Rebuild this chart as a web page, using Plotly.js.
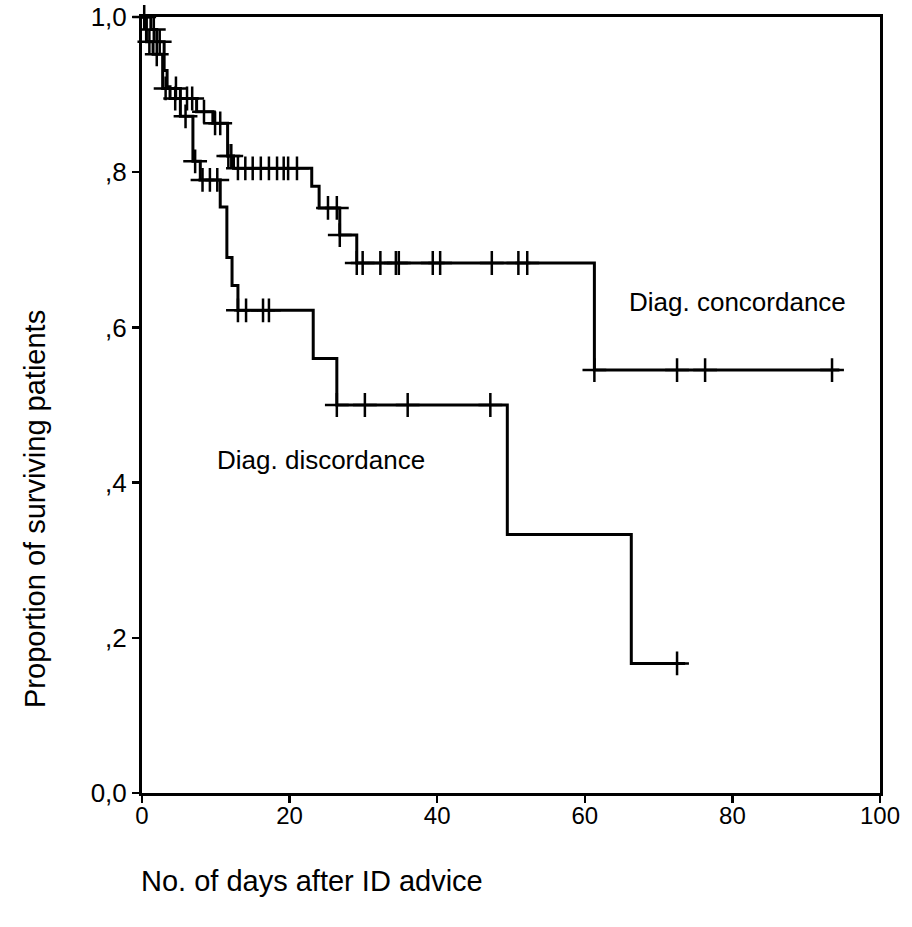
<!DOCTYPE html>
<html>
<head>
<meta charset="utf-8">
<script src="https://cdn.plot.ly/plotly-3.0.1.min.js"></script>
<style>html,body{margin:0;padding:0;background:#fff;}</style>
</head>
<body>
<div id="chart" style="width:912px;height:927px;"></div>
<script>
// Kaplan-Meier step data (days after ID advice, proportion surviving)
const concStepTimes = [0, 1.2, 2.0, 3.0, 3.4, 3.8, 7.4, 9.6, 11.6, 12.4, 23.0, 24.0, 26.8, 29.1, 61.3];
const concStepSurv  = [1.0, 0.984, 0.968, 0.931, 0.91, 0.895, 0.878, 0.863, 0.821, 0.805, 0.782, 0.754, 0.719, 0.683, 0.545];
const concEndTime = 94.5;
const concCensorTimes = [0.3, 1.6, 2.4, 4.5, 6.1, 6.8, 8.4, 9.9, 10.6, 11.7, 12.1, 13.0, 14.0, 15.0, 16.1, 17.2, 18.3, 19.2, 19.8, 21.0, 25.2, 26.4, 26.8, 29.1, 29.9, 32.3, 34.4, 34.8, 39.4, 40.4, 47.4, 51.0, 52.2, 61.3, 72.5, 76.3, 93.5];

const discStepTimes = [0, 0.6, 1.5, 2.8, 5.2, 6.9, 7.9, 10.6, 11.5, 12.2, 13.0, 23.2, 26.4, 49.5, 66.3];
const discStepSurv  = [1.0, 0.968, 0.952, 0.908, 0.872, 0.814, 0.79, 0.755, 0.69, 0.654, 0.622, 0.56, 0.5, 0.333, 0.167];
const discEndTime = 73.6;
const discCensorTimes = [1.0, 2.0, 3.2, 4.6, 5.9, 7.2, 8.2, 9.2, 10.2, 13.0, 14.1, 16.4, 17.2, 26.4, 30.2, 36.0, 47.2, 72.5];

const xTickVals = [0, 20, 40, 60, 80, 100];
const yTickVals = [0, 0.2, 0.4, 0.6, 0.8, 1.0];
const yTickText = ['0,0', ',2', ',4', ',6', ',8', '1,0'];

const xTitle = 'No. of days after ID advice';
const yTitle = 'Proportion of surviving patients';
const concLabel = 'Diag. concordance';
const discLabel = 'Diag. discordance';

function survAt(times, surv, t) {
  let v = surv[0];
  for (let i = 0; i < times.length; i++) { if (t >= times[i] - 1e-9) v = surv[i]; }
  return v;
}
function stepTrace(times, surv, end) {
  return {
    x: times.concat([end]),
    y: surv.concat([surv[surv.length - 1]]),
    mode: 'lines', line: {shape: 'hv', color: '#000', width: 3},
    hoverinfo: 'skip', showlegend: false, cliponaxis: false
  };
}
function censorTrace(times, surv, ct) {
  return {
    x: ct, y: ct.map(t => survAt(times, surv, t)),
    mode: 'markers',
    marker: {symbol: 'cross-thin-open', size: 17, color: '#000', line: {color: '#000', width: 2.5}},
    hoverinfo: 'skip', showlegend: false, cliponaxis: false
  };
}

const FONT = 'Liberation Sans, Arial, sans-serif';

const data = [
  stepTrace(concStepTimes, concStepSurv, concEndTime),
  stepTrace(discStepTimes, discStepSurv, discEndTime),
  censorTrace(concStepTimes, concStepSurv, concCensorTimes),
  censorTrace(discStepTimes, discStepSurv, discCensorTimes)
];

const axisCommon = {
  showgrid: false, zeroline: false, showline: true, linecolor: '#000', linewidth: 3,
  mirror: true, ticks: 'outside', ticklen: 7, tickwidth: 2.5, tickcolor: '#000',
  fixedrange: true, ticklabeloverflow: 'allow'
};

const layout = {
  width: 912, height: 927, autosize: false,
  margin: {l: 142, r: 32, t: 17, b: 134, pad: 0},
  paper_bgcolor: '#fff', plot_bgcolor: '#fff',
  xaxis: Object.assign({}, axisCommon, {range: [0, 100], tickvals: xTickVals,
    tickfont: {family: FONT, size: 24, color: '#000'}, ticklabelstandoff: -8}),
  yaxis: Object.assign({}, axisCommon, {range: [0, 1], tickvals: yTickVals, ticktext: yTickText,
    tickfont: {family: FONT, size: 26, color: '#000'}}),
  annotations: [
    {text: xTitle, xref: 'paper', yref: 'paper', x: -0.004, y: -0.114, xanchor: 'left', yanchor: 'middle',
     showarrow: false, font: {family: FONT, size: 29, color: '#000'}},
    {text: yTitle, xref: 'paper', yref: 'paper', x: -0.145, y: 0.366, xanchor: 'center', yanchor: 'middle',
     textangle: -90, showarrow: false, font: {family: FONT, size: 29, color: '#000'}},
    {text: concLabel, xref: 'x', yref: 'y', x: 65.7, y: 0.633, xanchor: 'left', yanchor: 'middle',
     showarrow: false, font: {family: FONT, size: 26, color: '#000'}},
    {text: discLabel, xref: 'x', yref: 'y', x: 9.9, y: 0.429, xanchor: 'left', yanchor: 'middle',
     showarrow: false, font: {family: FONT, size: 26, color: '#000'}}
  ]
};

Plotly.newPlot('chart', data, layout, {displayModeBar: false, staticPlot: true});
</script>
</body>
</html>
